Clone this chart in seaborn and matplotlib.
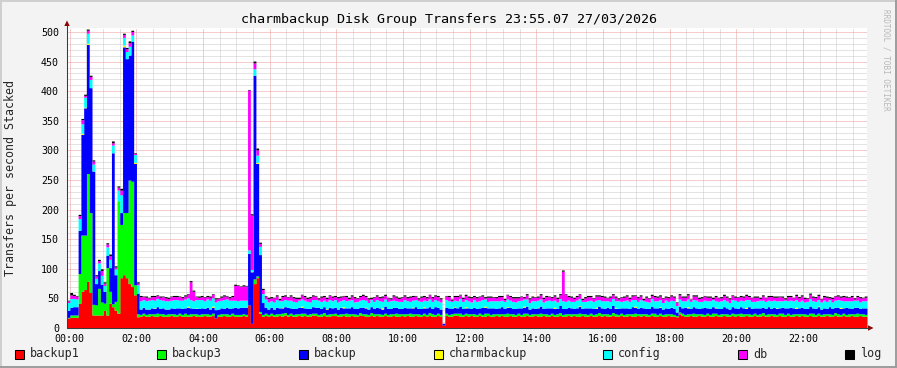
import numpy as np
import pandas as pd
import matplotlib
matplotlib.use("Agg")
import matplotlib.pyplot as plt
import seaborn as sns
from matplotlib.patches import Rectangle, Polygon
from matplotlib.lines import Line2D
from matplotlib.ticker import MultipleLocator, FixedLocator

# ---------------- data (5-minute steps, 23:55 -> 23:55) ----------------
title = "charmbackup Disk Group Transfers 23:55.07 27/03/2026"
ylabel = "Transfers per second Stacked"
watermark = "RRDTOOL / TOBI OETIKER"
series_names = ["backup1", "backup3", "backup", "charmbackup", "config", "db", "log"]
series_colors = ["#FF0000", "#00FF00", "#0000FF", "#FFFF00", "#00FFFF", "#FF00FF", "#000000"]
tick_hours = [0, 2, 4, 6, 8, 10, 12, 14, 16, 18, 20, 22]
tick_labels = ["00:00", "02:00", "04:00", "06:00", "08:00", "10:00",
               "12:00", "14:00", "16:00", "18:00", "20:00", "22:00"]
y_ticks = [0, 50, 100, 150, 200, 250, 300, 350, 400, 450, 500]
start_hour = -5 / 60   # 23:55 of the previous day
step_hours = 5 / 60

backup1 = [
    17,18,18,18,42,62,65,79,60,22,22,22,22,30,22,42,36,30,25,85,90,85,75,70,
    56,19,20,21,20,20,21,20,20,21,20,20,20,21,20,20,21,20,20,20,20,21,20,20,
    20,21,20,20,21,17,20,20,21,20,20,21,20,20,20,21,20,39,8,75,85,25,20,21,
    20,21,20,20,21,20,22,20,21,20,20,21,20,21,20,20,22,21,20,20,21,20,20,21,
    21,20,20,21,20,20,21,20,20,22,21,20,20,21,20,21,20,20,21,20,20,21,20,20,
    21,20,21,20,20,21,20,20,21,20,21,20,20,21,20,5,21,20,20,22,21,20,20,21,
    20,21,20,20,21,20,20,21,20,20,21,20,21,20,20,21,20,20,21,20,20,21,20,20,
    21,20,20,21,20,20,21,20,20,21,20,20,21,20,21,20,20,21,20,20,21,20,20,21,
    20,21,20,20,21,20,20,21,20,20,21,20,20,21,20,21,20,20,21,20,20,21,20,20,
    21,20,20,19,24,21,20,20,21,20,20,21,20,20,21,20,20,21,20,20,21,20,20,21,
    20,21,20,20,21,20,20,21,20,20,21,20,20,21,20,20,21,20,20,21,20,20,21,20,
    21,20,20,21,20,20,21,20,20,21,20,20,21,20,20,21,20,20,21,20,20,21,20,20,
]
backup3 = [
    1,4,4,4,50,95,92,182,135,18,17,45,22,12,80,20,5,15,190,90,105,110,175,178,
    17,5,3,4,3,4,3,4,5,3,4,3,4,3,4,3,4,3,5,3,4,3,4,3,
    4,3,4,3,4,0,3,4,3,4,3,4,3,3,3,3,3,0,0,8,3,3,3,4,
    3,4,3,4,3,5,4,3,4,3,4,3,5,4,3,4,3,4,3,4,5,3,4,3,
    4,3,4,3,5,4,3,4,3,4,3,4,3,5,4,3,4,3,4,3,4,3,5,4,
    3,4,3,5,4,3,4,3,4,3,5,4,3,4,3,0,4,3,4,3,4,5,3,4,
    4,3,4,3,4,3,5,4,3,4,3,4,3,4,5,3,4,3,4,3,5,4,3,4,
    3,4,5,3,4,3,4,3,4,5,3,4,3,4,3,4,5,3,4,3,4,3,4,5,
    4,3,4,3,5,4,3,4,3,4,3,4,5,3,4,3,4,3,4,5,3,4,3,4,
    3,4,3,2,3,4,3,4,3,5,4,3,4,3,4,3,5,4,3,4,3,4,3,4,
    4,3,5,4,3,4,3,4,3,4,5,3,4,3,4,3,4,5,3,4,3,4,3,4,
    3,4,3,4,5,3,4,3,4,3,4,3,5,4,3,4,3,4,3,4,5,3,4,3,
]
backup = [
    12,13,14,14,73,170,215,218,211,225,36,30,30,20,21,40,255,45,0,20,280,260,211,236,
    205,35,9,10,9,8,10,9,11,9,10,9,8,10,9,11,9,10,9,12,10,9,9,10,
    10,9,11,9,10,14,9,10,9,11,10,9,12,11,12,11,12,87,87,344,190,96,20,10,
    9,10,9,11,10,9,10,12,9,10,9,11,10,9,10,9,11,10,12,9,10,9,11,10,
    10,9,11,10,9,10,12,9,10,9,11,10,9,10,9,11,10,9,12,10,9,11,10,9,
    9,11,10,9,10,12,9,10,9,11,10,9,13,10,9,3,10,11,9,10,9,12,10,9,
    10,9,11,10,9,12,10,9,11,10,9,10,12,9,10,11,9,10,9,11,10,12,9,10,
    9,10,12,9,10,11,9,10,9,12,10,9,11,10,9,10,12,9,10,11,9,10,9,11,
    10,9,11,10,12,9,10,9,11,10,9,12,10,9,11,10,9,10,12,9,11,10,9,10,
    9,11,10,6,10,9,12,10,9,11,10,9,10,12,9,10,11,9,10,9,12,10,9,11,
    10,9,11,10,9,12,10,9,11,10,9,10,12,9,11,10,9,10,11,9,12,10,9,10,
    11,9,10,12,9,10,11,9,10,9,12,10,9,11,10,9,12,10,9,11,10,9,10,11,
]
charmbackup = [
    0,0,0,0,0,2,1,2,0,0,0,0,0,0,0,0,0,0,0,0,3,0,0,0,
    2,0,0,0,0,0,0,1,0,0,0,0,0,0,0,0,0,0,0,2,0,0,1,0,
    0,0,0,0,2,0,0,0,0,0,0,0,0,0,0,0,0,0,1,0,2,0,0,0,
    0,0,0,0,0,1,0,0,0,0,0,0,2,0,0,0,0,0,0,0,0,1,0,0,
    0,0,0,2,0,0,0,0,0,0,0,1,0,0,0,0,0,2,0,0,0,0,0,0,
    0,0,0,0,1,0,0,0,2,0,0,0,0,0,0,0,0,0,0,1,0,0,0,2,
    0,0,0,0,0,0,2,0,0,0,0,0,0,0,1,0,0,0,0,0,2,0,0,0,
    0,1,0,0,0,0,0,2,0,0,0,0,0,0,0,0,1,0,0,0,0,0,2,0,
    0,0,0,0,0,1,0,0,0,0,0,0,2,0,0,0,0,0,0,0,0,1,0,0,
    0,0,0,0,0,0,0,2,0,0,0,0,0,0,0,0,0,1,0,0,0,0,0,0,
    0,0,0,0,2,0,0,0,0,0,0,0,0,0,0,1,0,0,0,0,0,0,2,0,
    0,0,0,0,0,0,1,0,0,0,0,0,0,0,2,0,0,0,0,0,0,0,0,0,
]
config = [
    13,15,14,13,20,16,17,17,14,12,9,13,15,10,14,14,13,10,18,30,13,12,15,11,
    13,14,14,13,14,15,14,13,14,15,13,14,14,13,15,14,13,14,15,14,14,13,14,15,
    14,13,14,15,14,13,14,13,15,14,14,13,12,12,12,12,12,6,3,11,12,14,15,14,
    12,11,12,13,12,11,12,12,13,12,11,12,12,13,12,11,12,13,12,12,11,12,13,12,
    13,12,11,12,12,13,12,11,12,12,13,12,11,12,12,13,12,11,12,12,13,12,11,12,
    12,13,12,11,12,12,13,12,11,12,13,12,12,11,12,0,13,12,12,11,12,13,12,12,
    12,11,13,12,12,13,12,11,12,12,13,12,11,12,13,12,12,11,12,13,12,12,11,12,
    13,12,12,11,12,13,12,12,11,12,13,12,12,11,12,13,12,12,11,12,13,12,12,11,
    12,13,11,12,12,12,13,11,12,13,12,12,11,12,13,12,12,11,13,12,12,12,11,13,
    12,12,13,11,12,12,11,13,12,12,13,12,11,12,12,13,12,11,12,13,12,12,11,12,
    13,12,11,12,13,12,12,11,12,13,12,12,11,13,12,12,12,11,13,12,12,12,13,11,
    12,11,12,13,12,12,11,12,13,12,12,11,12,13,12,12,11,12,13,12,12,11,12,12,
]
db = [
    3,6,5,5,5,7,3,5,5,5,4,4,8,4,5,6,4,3,5,8,5,5,6,6,
    2,3,7,5,6,4,5,6,5,4,6,5,4,6,5,5,6,4,5,6,30,16,5,4,
    5,6,4,5,6,5,4,5,6,5,4,6,25,26,23,24,24,270,92,10,9,5,7,5,
    6,5,7,6,2,7,6,5,7,6,6,3,7,6,5,7,6,6,2,7,6,5,7,6,
    5,7,6,6,7,3,6,7,5,6,7,6,6,2,7,6,5,7,6,6,3,7,6,5,
    7,6,5,7,6,6,3,7,6,5,7,6,6,7,5,0,6,7,2,6,7,6,5,7,
    6,7,5,6,7,6,2,7,6,6,5,7,6,3,7,6,6,7,5,6,2,7,6,6,
    6,5,7,6,7,6,5,7,6,6,50,12,6,7,5,6,7,3,6,7,6,5,7,6,
    7,6,5,7,6,6,3,7,6,7,5,6,7,6,6,2,7,6,5,7,6,6,7,5,
    6,7,6,5,7,6,6,7,3,6,7,5,6,7,6,6,2,7,6,5,7,6,6,7,
    5,7,6,6,7,5,6,7,6,3,7,6,6,7,5,6,7,6,2,7,6,5,7,6,
    7,6,5,7,6,6,7,5,6,7,3,6,7,6,5,7,6,6,7,2,6,7,5,6,
]
log = [
    1,4,2,1,2,2,2,2,2,2,2,2,3,2,2,3,3,2,2,3,2,2,3,2,
    1,2,2,1,2,1,2,2,1,2,1,2,2,1,2,2,1,2,2,1,2,2,1,2,
    2,1,2,2,1,2,1,2,2,1,2,2,2,1,1,2,1,1,2,3,3,2,2,1,
    2,2,1,2,2,2,2,1,2,2,2,2,1,2,2,2,2,1,2,2,2,2,1,2,
    2,2,2,1,2,2,2,2,1,2,2,2,2,2,1,2,2,2,2,1,2,2,2,2,
    1,2,2,2,2,1,2,2,2,2,1,2,2,2,2,0,1,2,2,2,2,1,2,2,
    2,2,2,2,1,2,2,2,2,1,2,2,2,2,1,2,2,2,2,1,2,2,2,2,
    1,2,2,2,2,1,2,2,2,2,2,1,2,2,2,2,1,2,2,2,2,1,2,2,
    2,2,1,2,2,2,2,1,2,2,2,2,1,2,2,2,2,1,2,2,2,2,1,2,
    2,2,2,1,2,2,2,2,1,2,2,2,2,1,2,2,2,2,1,2,2,2,2,1,
    2,1,2,2,2,2,1,2,2,2,2,1,2,2,2,2,1,2,2,2,2,1,2,2,
    2,2,1,2,2,2,2,1,2,2,2,2,1,2,2,2,2,1,2,2,2,2,1,2,
]
series_values = [backup1, backup3, backup, charmbackup, config, db, log]

# ---------------- figure ----------------
W, H = 897, 368
sns.set_style("white")
plt.rcParams["font.family"] = ["DejaVu Sans Mono", "DejaVu Sans"]

fig = plt.figure(figsize=(W / 100, H / 100), dpi=100, facecolor="#f3f3f3")

def fx(x):
    return x / W

def fy(y):
    return 1 - y / H

ax = fig.add_axes([fx(67), fy(328), 800 / W, 300 / H])
ax.set_facecolor("white")

n = len(backup1)
times = start_hour + (np.arange(n) + 0.5) * step_hours
frames = []
for name, vals in zip(series_names, series_values):
    frames.append(pd.DataFrame({"t": times, "v": np.asarray(vals, float), "series": name}))
df = pd.concat(frames, ignore_index=True)

sns.histplot(data=df, x="t", weights="v", hue="series",
             hue_order=series_names[::-1],
             palette=dict(zip(series_names, series_colors)),
             multiple="stack", bins=n, binrange=(start_hour, start_hour + n * step_hours),
             element="step", fill=True,
             alpha=1, linewidth=0, antialiased=False, legend=False, ax=ax)

ax.set_xlim(start_hour, start_hour + 24)
ax.set_ylim(0, 506.8)
ax.set_xlabel("")
ax.set_ylabel("")

ax.xaxis.set_major_locator(FixedLocator(tick_hours))
ax.set_xticklabels(tick_labels)
ax.xaxis.set_minor_locator(MultipleLocator(0.5))
ax.yaxis.set_major_locator(FixedLocator(y_ticks))
ax.set_yticklabels([str(v) for v in y_ticks])
ax.yaxis.set_minor_locator(MultipleLocator(10))

ax.set_axisbelow(True)
ax.grid(which="major", color="#eb9a9a", linestyle=(0, (1, 1)), linewidth=0.72)
ax.grid(which="minor", color="#c8c8c8", linestyle=(0, (1, 1)), linewidth=0.72)
for s in ax.spines.values():
    s.set_visible(False)

ax.tick_params(axis="both", which="major", length=2.5, width=0.72, color="#7a7a7a",
               labelsize=7.2, labelcolor="black")
ax.tick_params(axis="both", which="minor", length=1.5, width=0.72, color="#9a9a9a")
ax.tick_params(axis="y", which="major", pad=3.3)
ax.tick_params(axis="x", which="major", pad=1.8)

# axis lines + arrows
fig.lines.append(Line2D([fx(67), fx(67)], [fy(328), fy(25)], transform=fig.transFigure,
                        color="#3a3a3a", linewidth=0.75))
fig.lines.append(Line2D([fx(67), fx(869)], [fy(328), fy(328)], transform=fig.transFigure,
                        color="#3a3a3a", linewidth=0.75))
fig.patches.append(Polygon([[fx(64.3), fy(26)], [fx(69.7), fy(26)], [fx(67), fy(20.5)]],
                           closed=True, transform=fig.transFigure, color="#8b0000", lw=0))
fig.patches.append(Polygon([[fx(868), fy(325.3)], [fx(868), fy(330.7)], [fx(873.5), fy(328)]],
                           closed=True, transform=fig.transFigure, color="#8b0000", lw=0))

# frame shading
fig.patches.append(Rectangle((0, fy(2)), 1, 2 / H, transform=fig.transFigure, color="#cfcfcf", lw=0))
fig.patches.append(Rectangle((0, 0), 2 / W, 1, transform=fig.transFigure, color="#cfcfcf", lw=0))
fig.patches.append(Rectangle((0, 0), 1, 2 / H, transform=fig.transFigure, color="#9e9e9e", lw=0))
fig.patches.append(Rectangle((fx(895), 0), 2 / W, 1, transform=fig.transFigure, color="#9e9e9e", lw=0))

# texts
fig.text(0.5, fy(19), title, ha="center", va="center", fontsize=9.6, color="black")
fig.text(fx(11), fy(178), ylabel, rotation=90, ha="center", va="center", fontsize=8.4)
fig.text(fx(886), fy(60), watermark, rotation=270, ha="center", va="center",
         fontsize=5.5, color="#b8b8b8")

# legend
legend_x = [15, 157, 299, 434, 603, 738, 845]
for name, col, lx in zip(series_names, series_colors, legend_x):
    fig.patches.append(Rectangle((fx(lx), fy(358.5)), 9 / W, 9 / H, transform=fig.transFigure,
                                 facecolor=col, edgecolor="black", linewidth=0.75))
    fig.text(fx(lx + 14.8), fy(354), name, ha="left", va="center", fontsize=8.5)

fig.savefig("out.png", dpi=100, facecolor=fig.get_facecolor())
